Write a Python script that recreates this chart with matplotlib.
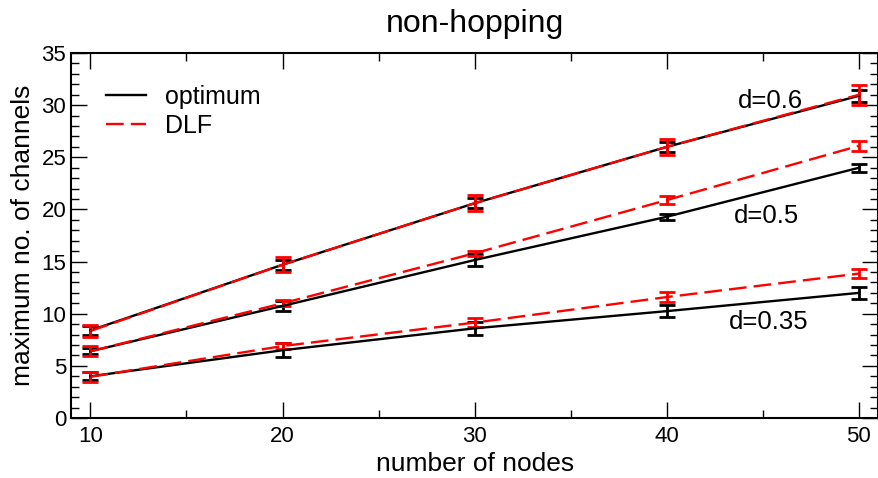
import matplotlib
matplotlib.use('Agg')
import matplotlib.pyplot as plt
from matplotlib.ticker import MultipleLocator
import numpy as np

plt.rcParams['font.family'] = ['Liberation Sans', 'DejaVu Sans']

nodes = [10, 20, 30, 40, 50]

# optimum (black, solid)
opt_06 = [8.4, 14.7, 20.6, 26.0, 30.9]
opt_06_err = [0.4, 0.5, 0.5, 0.5, 0.6]
opt_05 = [6.4, 10.75, 15.15, 19.3, 24.0]
opt_05_err = [0.3, 0.5, 0.55, 0.3, 0.4]
opt_035 = [4.0, 6.5, 8.6, 10.25, 12.0]
opt_035_err = [0.4, 0.65, 0.6, 0.6, 0.55]

# DLF (red, dashed)
dlf_06 = [8.35, 14.7, 20.6, 26.0, 31.0]
dlf_06_err = [0.55, 0.7, 0.75, 0.8, 0.95]
dlf_05 = [6.4, 11.0, 15.8, 20.9, 26.1]
dlf_05_err = [0.5, 0.3, 0.25, 0.35, 0.45]
dlf_035 = [3.95, 6.9, 9.15, 11.6, 13.85]
dlf_035_err = [0.5, 0.3, 0.45, 0.5, 0.45]

d_labels = ['d=0.6', 'd=0.5', 'd=0.35']
d_label_pos = [(45.4, 30.4), (45.2, 19.4), (45.3, 9.2)]

fig = plt.figure(figsize=(8.79, 4.78), dpi=100)
ax = fig.add_axes([0.081, 0.1255, 0.918, 0.7635])

for y, e in [(opt_06, opt_06_err), (opt_05, opt_05_err), (opt_035, opt_035_err)]:
    ax.errorbar(nodes, y, yerr=e, color='black', lw=1.7, elinewidth=2,
                capsize=5.5, capthick=2)
for y, e in [(dlf_06, dlf_06_err), (dlf_05, dlf_05_err), (dlf_035, dlf_035_err)]:
    ax.errorbar(nodes, y, yerr=e, color='#ff0000', lw=1.7, elinewidth=2,
                capsize=5.5, capthick=2, dashes=(7.5, 3))

for t, (x, y) in zip(d_labels, d_label_pos):
    ax.text(x, y, t, fontsize=18.5, ha='center', va='center')

ax.plot([], [], color='black', lw=1.7, label='optimum')
ax.plot([], [], color='#ff0000', lw=1.7, dashes=(7.5, 3), label='DLF')
h, l = ax.get_legend_handles_labels()
ax.legend(h[-2:], l[-2:], loc='upper left', frameon=False, fontsize=18,
          handlelength=1.6, handletextpad=0.75, labelspacing=0.2,
          bbox_to_anchor=(0.015, 0.975))

ax.set_xlim(9, 51)
ax.set_ylim(0, 35)
ax.xaxis.set_major_locator(MultipleLocator(10))
ax.xaxis.set_minor_locator(MultipleLocator(5))
ax.yaxis.set_major_locator(MultipleLocator(5))
ax.yaxis.set_minor_locator(MultipleLocator(1))
ax.tick_params(which='both', direction='in', top=True, right=True, labelsize=16, width=1)
ax.tick_params(axis='x', which='both', pad=6)
ax.tick_params(which='major', length=11.5)
ax.tick_params(which='minor', length=5.5)
for s in ax.spines.values():
    s.set_linewidth(1.5)

ax.set_xlabel('number of nodes', fontsize=19, labelpad=3)
ax.set_ylabel('maximum no. of channels', fontsize=19, labelpad=5)
ax.set_title('non-hopping', fontsize=23, pad=15)

plt.savefig('out.png', dpi=100)
plt.close()
